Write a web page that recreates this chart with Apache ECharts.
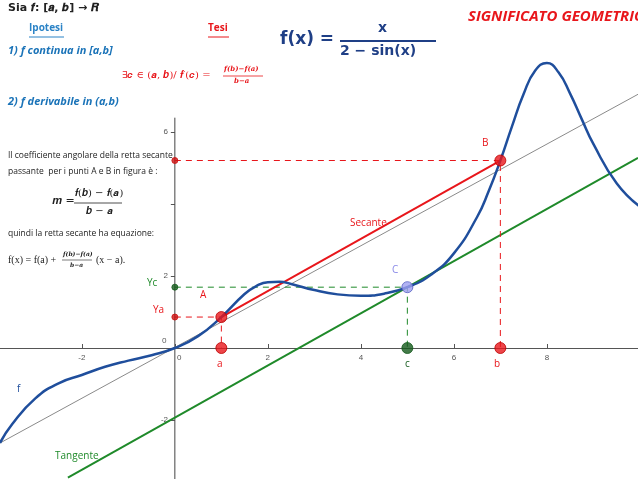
<!DOCTYPE html>
<html><head><meta charset="utf-8">
<script src="https://cdn.jsdelivr.net/npm/echarts@6/dist/echarts.min.js"></script>
<style>html,body{margin:0;padding:0;background:#fff}#main{width:638px;height:479px}</style>
</head><body><div id="main"></div>
<script>
// f(x) = x / (2 - sin x)
var curveX = [-3.76, -3.5, -3, -2.5, -2, -1.5, -1, -0.5, 0, 0.5, 1, 1.5, 1.75, 2, 2.25, 2.5, 3, 3.5, 4, 4.5, 5, 5.5, 6, 6.5, 6.75, 7, 7.25, 7.5, 7.75, 8, 8.25, 8.5, 8.75, 9, 9.5, 10];
var curveY = [-2.64, -2.12, -1.40, -0.98, -0.75, -0.52, -0.35, -0.20, 0, 0.33, 0.86, 1.50, 1.72, 1.83, 1.84, 1.78, 1.61, 1.49, 1.45, 1.51, 1.69, 2.03, 2.63, 3.64, 4.36, 5.21, 6.16, 7.06, 7.71, 7.92, 7.66, 7.07, 6.36, 5.67, 4.58, 3.93];
var pA = [1, 0.86];
var pB = [7, 5.21];
var pC = [5, 1.69];
var greyLine = [[-3.76, -2.64], [9.96, 7.05]];
var xTicks = [-2, 0, 2, 4, 6, 8];
var yTicks = [-2, 2, 4, 6];
var yLabels = [-2, 2, 6];

var RED = '#e8161b', GREEN = '#1f8a2a', DGREEN = '#145a1c', BLUE = '#1f4e9c';
var slope = (pB[1] - pA[1]) / (pB[0] - pA[0]);
var tan0 = pC[1] - slope * pC[0];
var curve = curveX.map(function (x, i) { return [x, curveY[i]]; });
function seg(d, color, w, dash) {
  return { type: 'line', data: d, symbol: 'none', silent: true,
    lineStyle: { color: color, width: w, type: dash ? [6, 5] : 'solid' } };
}
function dots(d, color, size, border) {
  return { type: 'scatter', data: d, symbolSize: size, z: 5,
    itemStyle: { color: color, borderColor: border || color, borderWidth: 1 } };
}
var myChart = echarts.init(document.getElementById('main'));
var T = function (x, y, text, style) {
  return { type: 'text', left: x, top: y, style: Object.assign({ text: text, fontFamily: 'Open Sans', fontSize: 10, fill: '#222' }, style || {}) };
};
var option = {
  animation: false,
  grid: { left: 0, right: 0, top: 0, bottom: 0 },
  xAxis: { type: 'value', min: -3.76, max: 9.96, offset: -131, splitLine: { show: false },
    axisLine: { onZero: false, lineStyle: { color: '#555' } },
    axisTick: { customValues: xTicks, length: 4, inside: true, lineStyle: { color: '#555' } },
    axisLabel: { customValues: xTicks, color: '#555', fontSize: 8, margin: 6,
      formatter: function (v) { return v === 0 ? '    0' : String(v); } } },
  yAxis: { type: 'value', min: -3.64, max: 9.67, offset: -173, splitLine: { show: false },
    axisLine: { show: false },
    axisTick: { show: true, customValues: yTicks, length: 4, lineStyle: { color: '#555' } },
    axisLabel: { customValues: yLabels, color: '#555', fontSize: 8, margin: 5 } },
  series: [
    seg([[0, -3.64], [0, 6.4]], '#444', 1),
    seg(greyLine, '#8a8a8a', 1),
    seg([[-2.3, tan0 - slope * 2.3], [9.96, tan0 + slope * 9.96]], GREEN, 2),
    seg([[0, pB[1]], pB, [pB[0], 0]], RED, 1, true),
    seg([[0, pA[1]], pA, [pA[0], 0]], RED, 1, true),
    seg([[0, pC[1]], pC, [pC[0], 0]], GREEN, 1, true),
    seg([pA, pB], RED, 2),
    { type: 'line', data: curve, smooth: true, symbol: 'none', lineStyle: { color: BLUE, width: 2.5 }, z: 3 },
    dots([pA, pB, [pA[0], 0], [pB[0], 0]], RED, 11, '#b00'),
    dots([[pC[0], 0]], DGREEN, 11),
    dots([[0, pA[1]], [0, pB[1]]], '#c11', 6),
    dots([[0, pC[1]]], DGREEN, 6),
    dots([pC], '#9fa0f0', 11, '#5560c0')
  ],
  graphic: [
    T(8, 3, 'Sia 𝒇: [𝒂, 𝒃] → 𝑹', { fontSize: 11, fontWeight: 'bold', fontFamily: 'DejaVu Sans' }),
    T(29, 23, 'Ipotesi', { fontSize: 10, fontWeight: 'bold', fill: '#2b83c6' }),
    { type: 'line', shape: { x1: 29, y1: 37, x2: 64, y2: 37 }, style: { stroke: '#2b83c6', lineWidth: 1 } },
    T(208, 23, 'Tesi', { fontSize: 10, fontWeight: 'bold', fill: RED }),
    { type: 'line', shape: { x1: 208, y1: 37, x2: 229, y2: 37 }, style: { stroke: RED, lineWidth: 1 } },
    T(8, 45, '1) f continua in [a,b]', { fontSize: 11, fontStyle: 'italic', fontWeight: 'bold', fill: '#1a73b8' }),
    T(8, 96, '2) f derivabile in (a,b)', { fontSize: 11, fontStyle: 'italic', fontWeight: 'bold', fill: '#1a73b8' }),
    T(122, 70, '∃𝒄 ∈ (𝒂, 𝒃)/ 𝒇′(𝒄) =', { fontSize: 10, fill: RED, fontFamily: 'DejaVu Serif' }),
    T(224, 66, 'f(b)−f(a)', { fontSize: 7, fill: RED, fontStyle: 'italic', fontWeight: 'bold', fontFamily: 'DejaVu Serif' }),
    { type: 'line', shape: { x1: 223, y1: 76, x2: 263, y2: 76 }, style: { stroke: RED, lineWidth: 0.8 } },
    T(234, 78, 'b−a', { fontSize: 7, fill: RED, fontStyle: 'italic', fontWeight: 'bold', fontFamily: 'DejaVu Serif' }),
    T(280, 31, 'f(x) =', { fontSize: 17, fontWeight: 'bold', fill: '#1f3f86', fontFamily: 'DejaVu Sans' }),
    T(378, 21, 'x', { fontSize: 14, fontWeight: 'bold', fill: '#1f3f86', fontFamily: 'DejaVu Sans' }),
    { type: 'line', shape: { x1: 340, y1: 41, x2: 436, y2: 41 }, style: { stroke: '#1f3f86', lineWidth: 2 } },
    T(340, 44, '2 − sin(x)', { fontSize: 14, fontWeight: 'bold', fill: '#1f3f86', fontFamily: 'DejaVu Sans' }),
    T(468, 9, 'SIGNIFICATO GEOMETRICO', { fontSize: 15, fontWeight: 'bold', fontStyle: 'italic', fill: RED }),
    T(8, 151, 'Il coefficiente angolare della retta secante', { fontSize: 8.5 }),
    T(8, 167, 'passante  per i punti A e B in figura è :', { fontSize: 8.5 }),
    T(52, 196, '𝒎 =', { fontSize: 11, fontFamily: 'DejaVu Serif' }),
    T(75, 188, '𝒇(𝒃) − 𝒇(𝒂)', { fontSize: 10, fontFamily: 'DejaVu Serif' }),
    { type: 'line', shape: { x1: 74, y1: 203, x2: 122, y2: 203 }, style: { stroke: '#222', lineWidth: 0.8 } },
    T(86, 206, '𝒃 − 𝒂', { fontSize: 10, fontFamily: 'DejaVu Serif' }),
    T(8, 229, 'quindi la retta secante ha equazione:', { fontSize: 8.5 }),
    T(8, 255, 'f(x) = f(a) +', { fontSize: 10, fontFamily: 'Liberation Serif' }),
    T(63, 251, 'f(b)−f(a)', { fontSize: 6, fontStyle: 'italic', fontWeight: 'bold', fontFamily: 'DejaVu Serif' }),
    { type: 'line', shape: { x1: 62, y1: 260, x2: 92, y2: 260 }, style: { stroke: '#222', lineWidth: 0.6 } },
    T(70, 262, 'b−a', { fontSize: 6, fontStyle: 'italic', fontWeight: 'bold', fontFamily: 'DejaVu Serif' }),
    T(96, 255, '(x − a).', { fontSize: 10, fontFamily: 'Liberation Serif' }),
    T(162, 337, '0', { fontSize: 8, fill: '#555' }),
    T(17, 384, 'f', { fontSize: 10, fill: BLUE }),
    T(55, 451, 'Tangente', { fontSize: 10, fill: GREEN }),
    T(350, 218, 'Secante', { fontSize: 10, fill: RED }),
    T(200, 290, 'A', { fontSize: 10, fill: RED }),
    T(482, 138, 'B', { fontSize: 10, fill: RED }),
    T(392, 265, 'C', { fontSize: 10, fill: '#8a8ae8' }),
    T(147, 278, 'Yc', { fontSize: 10, fill: GREEN }),
    T(153, 305, 'Ya', { fontSize: 10, fill: RED }),
    T(217, 359, 'a', { fontSize: 10, fill: RED }),
    T(405, 359, 'c', { fontSize: 10, fill: DGREEN }),
    T(494, 359, 'b', { fontSize: 10, fill: RED })
  ]
};
myChart.setOption(option);
</script></body></html>
